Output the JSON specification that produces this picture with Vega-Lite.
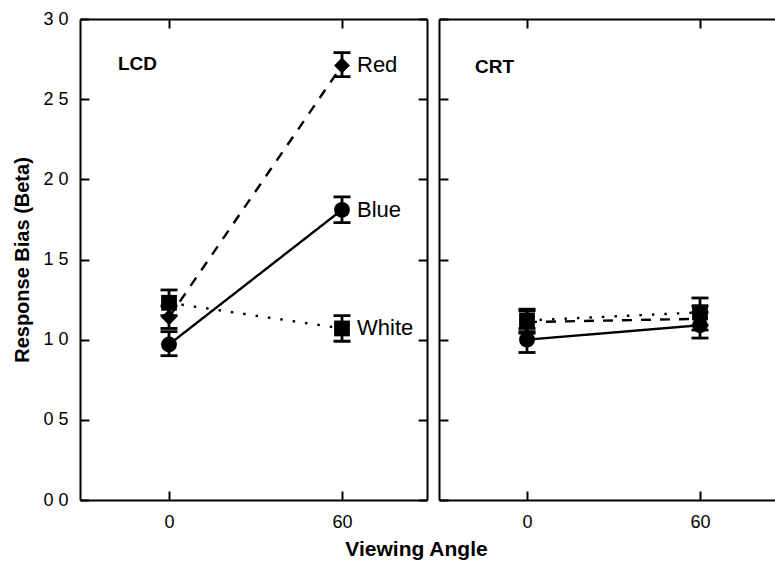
{
  "$schema": "https://vega.github.io/schema/vega-lite/v6.json",
  "background": "white",
  "padding": {"left": 12, "top": 10, "right": 0, "bottom": 5},
  "data": {"values": [
    {"panel": "LCD", "series": "Red", "angle": 0, "beta": 1.14, "lo": 1.07, "hi": 1.21},
    {"panel": "LCD", "series": "Red", "angle": 60, "beta": 2.71, "lo": 2.64, "hi": 2.79},
    {"panel": "LCD", "series": "Blue", "angle": 0, "beta": 0.97, "lo": 0.90, "hi": 1.05},
    {"panel": "LCD", "series": "Blue", "angle": 60, "beta": 1.81, "lo": 1.73, "hi": 1.89},
    {"panel": "LCD", "series": "White", "angle": 0, "beta": 1.23, "lo": 1.15, "hi": 1.31},
    {"panel": "LCD", "series": "White", "angle": 60, "beta": 1.07, "lo": 0.99, "hi": 1.15},
    {"panel": "CRT", "series": "Red", "angle": 0, "beta": 1.11, "lo": 1.04, "hi": 1.18},
    {"panel": "CRT", "series": "Red", "angle": 60, "beta": 1.13, "lo": 1.06, "hi": 1.21},
    {"panel": "CRT", "series": "Blue", "angle": 0, "beta": 1.00, "lo": 0.92, "hi": 1.07},
    {"panel": "CRT", "series": "Blue", "angle": 60, "beta": 1.09, "lo": 1.01, "hi": 1.17},
    {"panel": "CRT", "series": "White", "angle": 0, "beta": 1.12, "lo": 1.05, "hi": 1.19},
    {"panel": "CRT", "series": "White", "angle": 60, "beta": 1.17, "lo": 1.09, "hi": 1.26}
  ]},
  "title": {"text": "Viewing Angle", "orient": "bottom", "anchor": "middle", "font": "Liberation Sans", "fontSize": 21, "fontWeight": "bold", "color": "black", "offset": 8, "dx": 21},
  "spacing": 10,
  "hconcat": [
    {
      "width": 347, "height": 481,
      "transform": [{"filter": "datum.panel == 'LCD'"}],
      "layer": [
        {
          "mark": {"type": "errorbar", "ticks": true, "size": 17, "thickness": 2.8, "color": "black", "opacity": 1},
          "encoding": {
            "x": {"field": "angle", "type": "quantitative", "scale": {"domain": [-30.87, 89.48], "nice": false, "zero": false}, "axis": null},
            "y": {"field": "lo", "type": "quantitative", "scale": {"domain": [0, 3], "nice": false}, "axis": null},
            "y2": {"field": "hi"},
            "detail": {"field": "series"}
          }
        },
        {
          "mark": {"type": "line", "color": "black", "strokeWidth": 2.4},
          "encoding": {
            "x": {"field": "angle", "type": "quantitative", "scale": {"domain": [-30.87, 89.48], "nice": false, "zero": false},
                  "axis": {"orient": "bottom", "values": [0, 60], "title": null, "labelPadding": 22, "labelFontSize": 18, "labelFont": "Liberation Sans"}},
            "y": {"field": "beta", "type": "quantitative", "scale": {"domain": [0, 3], "nice": false},
                  "axis": {"orient": "left", "values": [0, 0.5, 1, 1.5, 2, 2.5, 3], "labelExpr": "replace(format(datum.value, '.1f'), '.', ' ')", "labelPadding": 21, "labelFontSize": 18, "labelFont": "Liberation Sans", "title": "Response Bias (Beta)", "titleFontSize": 20, "titleFontWeight": "bold", "titleFont": "Liberation Sans", "titlePadding": 10}},
            "strokeDash": {"field": "series", "type": "nominal", "scale": {"domain": ["Red", "Blue", "White"], "range": [[10, 9], [1, 0], [2.5, 10]]}, "legend": null}
          }
        },
        {
          "mark": {"type": "point", "filled": true, "color": "black", "opacity": 1, "size": 250},
          "encoding": {
            "x": {"field": "angle", "type": "quantitative", "axis": null},
            "y": {"field": "beta", "type": "quantitative", "axis": null},
            "shape": {"field": "series", "type": "nominal", "scale": {"domain": ["Red", "Blue", "White"], "range": ["diamond", "circle", "square"]}, "legend": null}
          }
        },
        {
          "transform": [{"filter": "datum.angle == 60"}],
          "mark": {"type": "text", "align": "left", "baseline": "middle", "dx": 15, "fontSize": 22, "font": "Liberation Sans", "color": "black"},
          "encoding": {
            "x": {"field": "angle", "type": "quantitative", "axis": null},
            "y": {"field": "beta", "type": "quantitative", "axis": null},
            "text": {"field": "series"}
          }
        },
        {
          "data": {"values": [{"panel": "LCD", "label": "LCD"}]},
          "mark": {"type": "text", "align": "left", "baseline": "middle", "fontSize": 19, "fontWeight": "bold", "font": "Liberation Sans", "color": "black"},
          "encoding": {
            "x": {"datum": -17.7, "type": "quantitative", "axis": null},
            "y": {"datum": 2.72, "type": "quantitative", "axis": null},
            "text": {"field": "label"}
          }
        },
        {
          "mark": {"type": "point", "opacity": 0},
          "encoding": {
            "x": {"field": "angle", "type": "quantitative", "axis": {"orient": "top", "values": [0, 60], "labels": false, "title": null}},
            "y": {"field": "beta", "type": "quantitative", "axis": {"orient": "right", "values": [0, 0.5, 1, 1.5, 2, 2.5, 3], "labels": false, "title": null}}
          }
        }
      ],
      "resolve": {"axis": {"x": "independent", "y": "independent"}}
    },
    {
      "width": 338, "height": 481,
      "transform": [{"filter": "datum.panel == 'CRT'"}],
      "layer": [
        {
          "mark": {"type": "errorbar", "ticks": true, "size": 17, "thickness": 2.8, "color": "black", "opacity": 1},
          "encoding": {
            "x": {"field": "angle", "type": "quantitative", "scale": {"domain": [-30.52, 86.71], "nice": false, "zero": false}, "axis": null},
            "y": {"field": "lo", "type": "quantitative", "scale": {"domain": [0, 3], "nice": false}, "axis": null},
            "y2": {"field": "hi"},
            "detail": {"field": "series"}
          }
        },
        {
          "mark": {"type": "line", "color": "black", "strokeWidth": 2.4},
          "encoding": {
            "x": {"field": "angle", "type": "quantitative", "scale": {"domain": [-30.52, 86.71], "nice": false, "zero": false},
                  "axis": {"orient": "bottom", "values": [0, 60], "title": null, "labelPadding": 22, "labelFontSize": 18, "labelFont": "Liberation Sans"}},
            "y": {"field": "beta", "type": "quantitative", "scale": {"domain": [0, 3], "nice": false},
                  "axis": {"orient": "left", "values": [0, 0.5, 1, 1.5, 2, 2.5, 3], "labels": false, "title": null}},
            "strokeDash": {"field": "series", "type": "nominal", "scale": {"domain": ["Red", "Blue", "White"], "range": [[10, 9], [1, 0], [2.5, 10]]}, "legend": null}
          }
        },
        {
          "mark": {"type": "point", "filled": true, "color": "black", "opacity": 1, "size": 250},
          "encoding": {
            "x": {"field": "angle", "type": "quantitative", "axis": null},
            "y": {"field": "beta", "type": "quantitative", "axis": null},
            "shape": {"field": "series", "type": "nominal", "scale": {"domain": ["Red", "Blue", "White"], "range": ["diamond", "circle", "square"]}, "legend": null}
          }
        },
        {
          "data": {"values": [{"panel": "CRT", "label": "CRT"}]},
          "mark": {"type": "text", "align": "left", "baseline": "middle", "fontSize": 19, "fontWeight": "bold", "font": "Liberation Sans", "color": "black"},
          "encoding": {
            "x": {"datum": -18, "type": "quantitative", "axis": null},
            "y": {"datum": 2.70, "type": "quantitative", "axis": null},
            "text": {"field": "label"}
          }
        },
        {
          "mark": {"type": "point", "opacity": 0},
          "encoding": {
            "x": {"field": "angle", "type": "quantitative", "axis": {"orient": "top", "values": [0, 60], "labels": false, "title": null}},
            "y": {"field": "beta", "type": "quantitative", "axis": {"orient": "right", "values": [0.5, 1, 1.5, 2, 2.5], "labels": false, "title": null, "domain": false, "tickSize": -2}}
          }
        }
      ],
      "resolve": {"axis": {"x": "independent", "y": "independent"}}
    }
  ],
  "config": {
    "font": "Liberation Sans",
    "view": {"stroke": null},
    "axis": {"domainColor": "black", "domainWidth": 2, "tickColor": "black", "tickWidth": 2, "tickSize": -9, "grid": false, "labelColor": "black", "labelFont": "Liberation Sans", "labelFontSize": 18, "titleColor": "black", "titleFont": "Liberation Sans"}
  }
}
